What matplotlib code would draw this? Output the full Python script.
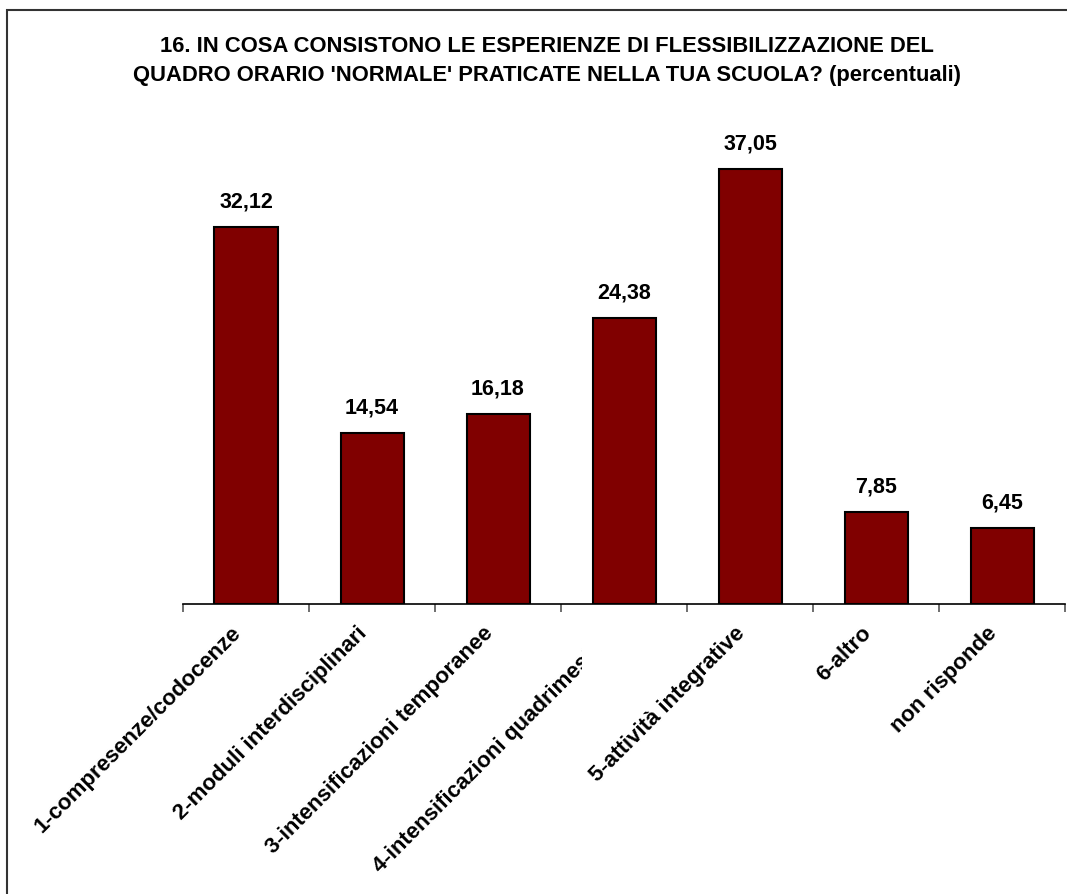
import numpy as np
import matplotlib.pyplot as plt
from matplotlib.transforms import Bbox, TransformedBbox, ScaledTranslation
from matplotlib.patches import Rectangle

categories = [
    "1-compresenze/codocenze",
    "2-moduli interdisciplinari",
    "3-intensificazioni temporanee",
    "4-intensificazioni quadrimestrali",
    "5-attività integrative",
    "6-altro",
    "non risponde",
]
values = [32.12, 14.54, 16.18, 24.38, 37.05, 7.85, 6.45]
value_labels = ["32,12", "14,54", "16,18", "24,38", "37,05", "7,85", "6,45"]

title = ("16. IN COSA CONSISTONO LE ESPERIENZE DI FLESSIBILIZZAZIONE DEL\n"
         "QUADRO ORARIO 'NORMALE' PRATICATE NELLA TUA SCUOLA? (percentuali)")

plt.rcParams['font.family'] = ['Liberation Sans', 'DejaVu Sans']
plt.rcParams['font.weight'] = 'bold'

W, H = 1067, 895
fig = plt.figure(figsize=(W / 100, H / 100), dpi=100)

# outer chart frame (only top and left edges fall inside the image)
fig.patches.append(Rectangle((7 / W, -0.05), 1.1, 1 - 11 / H + 0.05,
                             transform=fig.transFigure, fill=False,
                             edgecolor='#333333', linewidth=1.5))

ax = fig.add_axes([183 / W, 1 - 605 / H, (1065 - 183) / W, (605 - 135) / H])
x = np.arange(len(categories))
ax.bar(x, values, width=0.5, color='#800000', edgecolor='black', linewidth=1.5)

for xi, v, lab in zip(x, values, value_labels):
    ax.annotate(lab, (xi, v), xytext=(0, 11), textcoords='offset points',
                ha='center', va='bottom', fontsize=15.5, fontweight='bold')

ax.set_xlim(-0.5, len(categories) - 0.5)
ax.set_ylim(0, 40)
for side in ['top', 'right', 'left']:
    ax.spines[side].set_visible(False)
ax.spines['bottom'].set_linewidth(1.2)
ax.set_yticks([])

ax.set_xticks([])
ax.set_xticks(np.arange(len(categories) + 1) - 0.5, minor=True)
ax.tick_params(axis='x', which='minor', length=6, color='#555555', width=1.2,
               labelbottom=False)

# category labels, rotated and ending just left of each bar centre
shift = ScaledTranslation(-8 / 100, -25 / 100, fig.dpi_scale_trans)
clip = TransformedBbox(Bbox([[0, 0], [582 / W, 1]]), fig.transFigure)
for i, cat in enumerate(categories):
    t = ax.text(i, 0, cat, transform=ax.get_xaxis_transform() + shift,
                rotation=45, ha='right', va='center', rotation_mode='anchor',
                fontsize=16, fontweight='bold', clip_on=False)
    if i == 3:
        # the fourth label is cut off at the edge of its slot
        t.set_clip_on(True)
        t.set_clip_box(clip)

fig.text(547 / W, 1 - 61 / H, title, ha='center', va='center',
         fontsize=15.8, fontweight='bold', linespacing=1.55)

fig.savefig('out.png', dpi=100)
